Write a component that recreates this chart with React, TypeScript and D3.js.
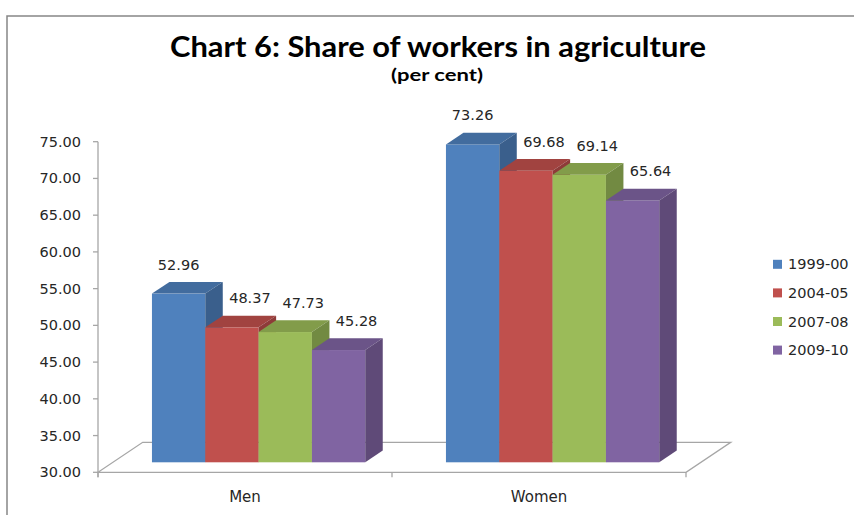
import React from "react";
import * as d3 from "d3";

const categories = ["Men", "Women"];
const seriesNames = ["1999-00", "2004-05", "2007-08", "2009-10"];
const menValues = [52.96, 48.37, 47.73, 45.28];
const womenValues = [73.26, 69.68, 69.14, 65.64];
const yTicks = [30, 35, 40, 45, 50, 55, 60, 65, 70, 75];
const colors = ["#4F81BD", "#C0504D", "#9BBB59", "#8064A2"];

const W = 854;
const H = 515;
const FONT = "'DejaVu Sans', Verdana, sans-serif";

export default function App() {
  const values = [menValues, womenValues];
  const x0 = 98;
  const x1 = 686;
  const y = d3.scaleLinear().domain([30, 75]).range([472.3, 141.7]);
  const xBand = d3
    .scaleBand<string>()
    .domain(categories)
    .range([x0, x1])
    .paddingInner(0.2745)
    .paddingOuter(0.2745 / 2);
  const xSeries = d3
    .scaleBand<string>()
    .domain(seriesNames)
    .range([0, xBand.bandwidth()]);

  const fdx = 44.7;
  const fdy = -30;
  const bfx = fdx / 3 - 1.3;
  const bfy = fdy / 3;
  const bdx = 17.5;
  const bdy = -11.7;

  const yFloor = y(30);

  const bars: JSX.Element[] = [];
  const labels: JSX.Element[] = [];
  categories.forEach((cat, ci) => {
    seriesNames.forEach((s, si) => {
      const v = values[ci][si];
      const left = (xBand(cat) as number) + (xSeries(s) as number) + bfx;
      const right = left + xSeries.bandwidth();
      const top = y(v) + bfy;
      const bottom = yFloor + bfy;
      const c = d3.color(colors[si])!;
      const topCol = c.darker(0.5).formatHex();
      const sideCol = c.darker(0.85).formatHex();
      bars.push(
        <g key={`${ci}-${si}`}>
          <rect x={left} y={top} width={right - left} height={bottom - top} fill={colors[si]} />
          <path
            d={`M${left},${top} L${left + bdx},${top + bdy} L${right + bdx},${top + bdy} L${right},${top} Z`}
            fill={topCol}
          />
          <path
            d={`M${right},${top} L${right + bdx},${top + bdy} L${right + bdx},${bottom + bdy} L${right},${bottom} Z`}
            fill={sideCol}
          />
        </g>
      );
      const cx = (left + right) / 2 + (si === 0 ? 0 : 18);
      labels.push(
        <text
          key={`l-${ci}-${si}`}
          x={cx}
          y={top - 29}
          textAnchor="middle"
          dominantBaseline="central"
          fontFamily={FONT}
          fontSize={14.5}
          fill="#262626"
        >
          {v.toFixed(2)}
        </text>
      );
    });
  });

  const floor = `M${x0},${yFloor} L${x1},${yFloor} L${x1 + fdx},${yFloor + fdy} L${x0 + fdx},${yFloor + fdy} Z`;

  return (
    <svg
      width={W}
      height={H}
      style={{ position: "absolute", left: 0, top: 0, background: "#fff" }}
    >
      <rect x={0} y={0} width={W} height={H} fill="#fff" />
      <path d={`M7,${H} V16 H${W}`} fill="none" stroke="#868686" strokeWidth={1.5} />
      <text
        x={438}
        y={57}
        textAnchor="middle"
        fontFamily="Lato, 'Open Sans', sans-serif"
        fontWeight="bold"
        fontSize={29}
        textLength={536}
        lengthAdjust="spacingAndGlyphs"
        fill="#000"
      >
        Chart 6: Share of workers in agriculture
      </text>
      <text
        x={437}
        y={81}
        textAnchor="middle"
        fontFamily="Lato, 'Open Sans', sans-serif"
        fontWeight="bold"
        fontSize={17}
        textLength={92}
        lengthAdjust="spacingAndGlyphs"
        fill="#000"
      >
        (per cent)
      </text>

      <path d={floor} fill="#fff" stroke="#a6a6a6" strokeWidth={1.3} />

      <line x1={x0} x2={x0} y1={y(75)} y2={yFloor + 5} stroke="#a6a6a6" strokeWidth={1.3} />
      {yTicks.map((t) => (
        <g key={t}>
          <line x1={x0 - 5} x2={x0} y1={y(t)} y2={y(t)} stroke="#a6a6a6" strokeWidth={1.3} />
          <text
            x={81}
            y={y(t)}
            textAnchor="end"
            dominantBaseline="central"
            fontFamily={FONT}
            fontSize={14.5}
            fill="#262626"
          >
            {t.toFixed(2)}
          </text>
        </g>
      ))}
      {[x0, (x0 + x1) / 2, x1].map((tx) => (
        <line key={tx} x1={tx} x2={tx} y1={yFloor} y2={yFloor + 5} stroke="#a6a6a6" strokeWidth={1.3} />
      ))}
      {categories.map((c) => (
        <text
          key={c}
          x={(xBand(c) as number) + xBand.bandwidth() / 2}
          y={497}
          textAnchor="middle"
          dominantBaseline="central"
          fontFamily={FONT}
          fontSize={15}
          fill="#262626"
        >
          {c}
        </text>
      ))}

      {bars}
      {labels}

      {seriesNames.map((s, i) => (
        <g key={s} transform={`translate(773, ${264.3 + i * 28.6})`}>
          <rect x={0} y={-4.5} width={9} height={9} fill={colors[i]} />
          <text
            x={15}
            y={0}
            dominantBaseline="central"
            fontFamily={FONT}
            fontSize={14.5}
            fill="#262626"
          >
            {s}
          </text>
        </g>
      ))}
    </svg>
  );
}
